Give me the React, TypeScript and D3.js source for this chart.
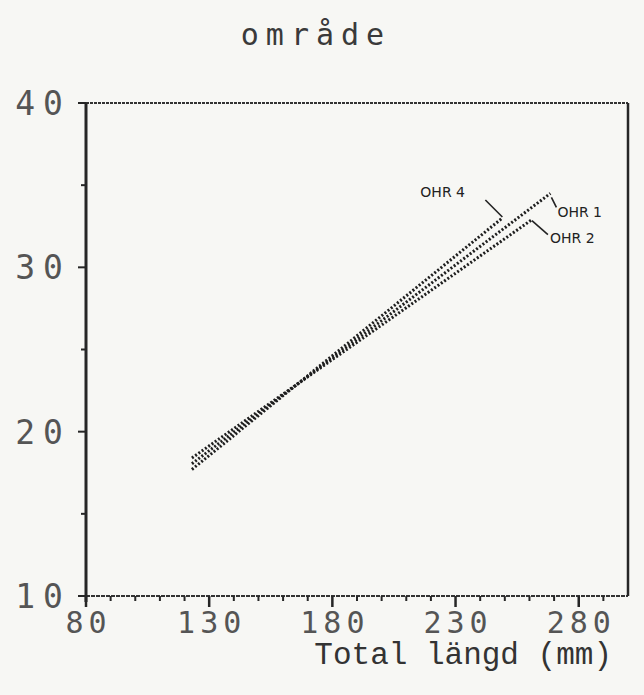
import React from 'react';
import * as d3 from 'd3';

const title = 'område';
const xLabel = 'Total längd (mm)';
const xTicks = [80, 130, 180, 230, 280];
const yTicks = [10, 20, 30, 40];
const xMinor = [90, 100, 110, 120, 140, 150, 160, 170, 190, 200, 210, 220, 240, 250, 260, 270, 290];
const yMinor = [15, 25, 35];

// regression lines per area, [length, value] end points
const ohr1 = [[123, 18.05], [268.5, 34.5]];
const ohr2 = [[123, 18.4], [261, 32.9]];
const ohr4 = [[123, 17.7], [249, 33.0]];

const series = [
    { name: 'OHR 1', points: ohr1 },
    { name: 'OHR 2', points: ohr2 },
    { name: 'OHR 4', points: ohr4 }
];

const W = 644;
const H = 695;
const ink = '#262626';
const dotFont = '"DejaVu Sans Mono", monospace';

const App = () => {
    const x = d3.scaleLinear().domain([80, 300]).range([86, 628]);
    const y = d3.scaleLinear().domain([10, 40]).range([596, 103]);
    const line = d3.line<number[]>().x(d => x(d[0])).y(d => y(d[1]));

    const [x0, x1] = x.range();
    const [y0, y1] = y.range();

    const endOf = (pts: number[][]) => {
        const p = pts[pts.length - 1];
        return [x(p[0]), y(p[1])];
    };
    const e1 = endOf(ohr1);
    const e2 = endOf(ohr2);
    const e4 = endOf(ohr4);

    return (
        <div style={{ position: 'fixed', left: 0, top: 0 }}>
            <svg width={W} height={H} style={{ display: 'block' }}>
                <rect width={W} height={H} fill="#f7f7f4" />

                {/* title */}
                <text x={316} y={45} textAnchor="middle" fontFamily={dotFont} fontSize={30}
                    letterSpacing={7} fill="#3a3a3a">{title}</text>

                {/* frame */}
                <line x1={x0} x2={x1} y1={y1} y2={y1} stroke="#333" strokeWidth={2.2} strokeDasharray="3 1" />
                <line x1={x0} x2={x1} y1={y0} y2={y0} stroke="#333" strokeWidth={2.2} strokeDasharray="4 1" />
                <line x1={x0} x2={x0} y1={y1} y2={y0 + 6} stroke={ink} strokeWidth={3} />
                <line x1={x1} x2={x1} y1={y1} y2={y0} stroke={ink} strokeWidth={2.5} />

                {/* x ticks */}
                {xTicks.map(t => (
                    <g key={'xt' + t}>
                        <line x1={x(t)} x2={x(t)} y1={y0} y2={y0 + 11} stroke={ink} strokeWidth={2.5} />
                        <text x={x(t) + 2.5} y={y0 + 37} textAnchor="middle" fontFamily={dotFont} fontSize={30}
                            letterSpacing={5} fill="#555">{t}</text>
                    </g>
                ))}
                {xMinor.map(t => (
                    <line key={'xm' + t} x1={x(t)} x2={x(t)} y1={y0} y2={y0 + 5} stroke={ink} strokeWidth={2} />
                ))}

                {/* y ticks */}
                {yTicks.map(t => (
                    <g key={'yt' + t}>
                        <line x1={x0 - 8} x2={x0} y1={y(t)} y2={y(t)} stroke={ink} strokeWidth={2} />
                        <text x={71} y={y(t) + 12} textAnchor="end" fontFamily={dotFont} fontSize={33}
                            letterSpacing={8} fill="#555">{t}</text>
                    </g>
                ))}
                {yMinor.map(t => (
                    <line key={'ym' + t} x1={x0 - 5} x2={x0} y1={y(t)} y2={y(t)} stroke={ink} strokeWidth={2} />
                ))}

                {/* dotted lines */}
                {series.map(s => (
                    <path key={s.name} d={line(s.points) || ''} fill="none" stroke="#1e1e1e"
                        strokeWidth={3} strokeDasharray="2 2" />
                ))}

                {/* hand written labels */}
                <g fontFamily='"DejaVu Sans", sans-serif' fontSize={14} fill="#222" stroke="none">
                    <path d={`M${e1[0] + 1},${e1[1] + 4} L${e1[0] + 6},${e1[1] + 14}`} stroke="#222" strokeWidth={1.6} />
                    <text x={e1[0] + 7} y={e1[1] + 24}>OHR 1</text>

                    <path d={`M${e2[0]},${e2[1] + 1} L${e2[0] + 16},${e2[1] + 15}`} stroke="#222" strokeWidth={1.6} />
                    <text x={e2[0] + 18} y={e2[1] + 23}>OHR 2</text>

                    <path d={`M${e4[0] - 17},${e4[1] - 18} L${e4[0]},${e4[1] - 1}`} stroke="#222" strokeWidth={1.6} />
                    <text x={e4[0] - 82} y={e4[1] - 21}>OHR 4</text>
                </g>

                {/* axis title */}
                <text x={612} y={664} textAnchor="end" fontFamily='"Liberation Mono", monospace' fontSize={31}
                    fill="#333">{xLabel}</text>
            </svg>
        </div>
    );
};

export default App;
